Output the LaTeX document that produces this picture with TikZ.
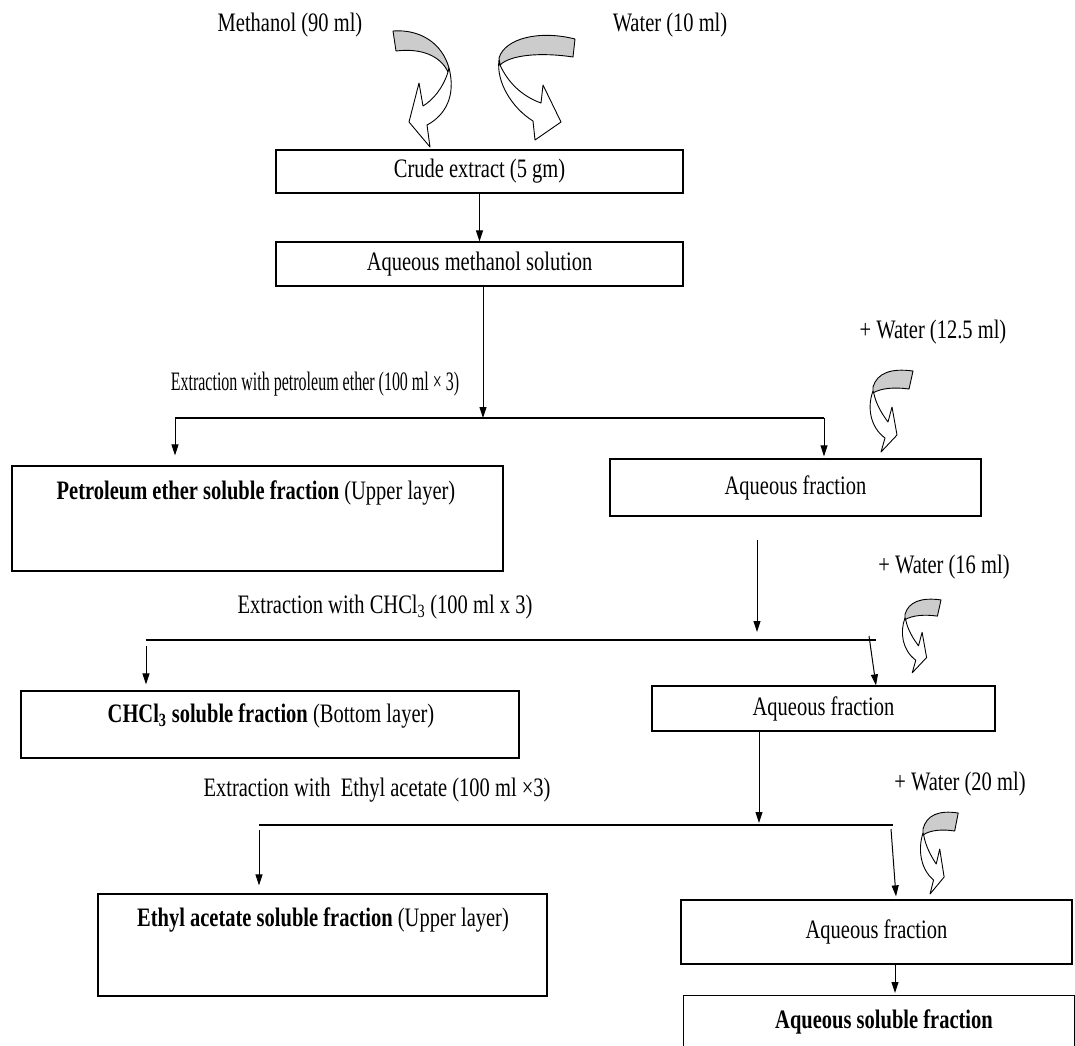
\documentclass[tikz,border=0pt]{standalone}
\usepackage{fontspec}
\setmainfont{Liberation Serif}
\usetikzlibrary{arrows.meta,calc}
\newcommand{\tallt}[1]{\scalebox{1}[1.3]{#1}}
% small curved "add water" arrow, tail to the right
\newcommand{\smallcurv}[4]{%
  \begin{scope}[shift={(#1,#2)},xscale=#3,yscale=#4]
    \draw[curv,fill=black!20] (0,-3) .. controls (4,-17) and (18,-22) .. (40,-19)
      -- (36,-1) .. controls (22,-3) and (8,-2) .. (0,3) -- cycle;
    \draw[curv,fill=white] (0,1) .. controls (-6,17) and (-3,37) .. (12,48)
      -- (8,62) -- (24,45) -- (19,17) -- (15,32) .. controls (9,24) and (3,14) .. (1,4) -- cycle;
  \end{scope}}
\begin{document}
\begin{tikzpicture}[x=1pt,y=-1pt]
\tikzstyle{box} = [draw, line width=1.3, inner sep=0, font=\fontsize{20.5}{24}\selectfont]
\tikzstyle{lbl} = [inner sep=0, font=\fontsize{20.5}{24}\selectfont]
\tikzstyle{arr} = [line width=1, -{Triangle[length=11pt,width=7pt]}]
\tikzstyle{feed} = [line width=1.2]
\tikzstyle{curv} = [line width=0.9, line join=round]
\useasboundingbox (0,0) rectangle (1075,1045);
\clip (0,0) rectangle (1075,1045);
% solvents and crude extract
\node [lbl] (meth) at (290,25) {\tallt{Methanol (90 ml)}};
\node [lbl] (wat10) at (670,25) {\tallt{Water (10 ml)}};
\draw [curv,fill=black!20] (449,68) .. controls (442,43) and (420,29) .. (393,31)
  -- (396,51) .. controls (420,48) and (440,55) .. (448,72) -- cycle;
\draw [curv,fill=white] (449,68) .. controls (456,95) and (446,115) .. (427,125)
  -- (430,147) -- (409,122) -- (419,83) -- (423,106) .. controls (433,100) and (443,88) .. (448,72) -- cycle;
\draw [curv,fill=black!20] (575,39) .. controls (540,30) and (505,38) .. (499,58)
  -- (500,65) .. controls (510,55) and (540,52) .. (573,57) -- cycle;
\draw [curv,fill=white] (499,60) .. controls (496,82) and (512,108) .. (533,121)
  -- (535,140) -- (561,122) -- (543,85) -- (541,103) .. controls (527,98) and (510,87) .. (500,65) -- cycle;
\node [box, minimum width=407, minimum height=43] (crude) at (479.5,171.5) {\tallt{Crude extract (5 gm)}};
\node [box, minimum width=407, minimum height=44] (aqmeth) at (479.5,264) {\tallt{Aqueous methanol solution}};
\draw [arr] (crude) -- (aqmeth);
% petroleum ether step
\node [lbl] (w125) at (933,332) {\tallt{+ Water (12.5 ml)}};
\smallcurv{873}{390}{1}{1}
\node [lbl] (ext1) at (315,384) {\scalebox{0.78}[1.3]{Extraction with petroleum ether (100 ml × 3)}};
\coordinate (s1) at (483,418);
\coordinate (s1l) at (175,418);
\coordinate (s1r) at (824,418);
\node [box, minimum width=491, minimum height=105] (pet) at (257.5,518.5) {};
\node [lbl] (pettxt) at (256,493) {\tallt{\textbf{Petroleum ether soluble fraction} (Upper layer)}};
\node [box, minimum width=371, minimum height=57] (aq1) at (795.5,487.5) {\tallt{Aqueous fraction}};
\draw [arr] (aqmeth.south -| s1) -- (s1);
\draw [feed] (s1l) -- (s1r);
\draw [arr] (s1l) -- ($(pet.north -| s1l)+(0,-10)$);
\draw [arr] (s1r) -- ($(aq1.north -| s1r)+(0,-2)$);
% chloroform step
\node [lbl] (w16) at (944,567) {\tallt{+ Water (16 ml)}};
\smallcurv{905}{617}{0.9}{0.9}
\node [lbl] (ext2) at (385,607) {\tallt{Extraction with CHCl\textsubscript{3} (100 ml x 3)}};
\coordinate (s2) at (757,640);
\coordinate (s2l) at (146,640);
\coordinate (s2r) at (876,640);
\coordinate (s2k) at (869,636);
\node [box, minimum width=498, minimum height=67] (chcl) at (270,724.5) {};
\node [lbl] (chcltxt) at (271,716) {\tallt{\textbf{CHCl\textsubscript{3} soluble fraction} (Bottom layer)}};
\node [box, minimum width=343, minimum height=45] (aq2) at (823.5,708.5) {\tallt{Aqueous fraction}};
\draw [arr] ($(aq1.south -| s2)+(0,23)$) -- ($(s2)+(0,-8)$);
\draw [feed] (s2l) -- (s2r);
\draw [arr] ($(s2l)+(0,6)$) -- ($(chcl.north -| s2l)+(0,-6)$);
\draw [arr] (s2k) -- (aq2.north -| s2r);
% ethyl acetate step
\node [lbl] (w20) at (960,784) {\tallt{+ Water (20 ml)}};
\smallcurv{923}{832}{0.88}{1}
\node [lbl] (ext3) at (377,790) {\tallt{Extraction with\ \ Ethyl acetate (100 ml ×3)}};
\coordinate (s3) at (759,825);
\coordinate (s3l) at (259,825);
\coordinate (s3r) at (893,825);
\coordinate (s3k) at (891,829);
\node [box, minimum width=449, minimum height=102] (eth) at (322.5,945) {};
\node [lbl] (ethtxt) at (323,920) {\tallt{\textbf{Ethyl acetate soluble fraction} (Upper layer)}};
\node [box, minimum width=391, minimum height=64] (aq3) at (876.5,932) {\tallt{Aqueous fraction}};
\draw [arr] (aq2.south -| s3) -- ($(s3)+(0,-2)$);
\draw [feed] (s3l) -- (s3r);
\draw [arr] ($(s3l)+(0,5)$) -- ($(eth.north -| s3l)+(0,-8)$);
\draw [arr] (s3k) -- ($(aq3.north -| s3k)+(5,-3)$);
% aqueous residue
\coordinate (c4) at (895,980);
\node [box, minimum width=391, minimum height=90, anchor=north west] (aqsol) at (683,995) {};
\node [lbl] (aqsoltxt) at (884,1022) {\tallt{\textbf{Aqueous soluble fraction}}};
\draw [arr] (aq3.south -| c4) -- ($(aqsol.north -| c4)+(0,-2)$);
\end{tikzpicture}
\end{document}
